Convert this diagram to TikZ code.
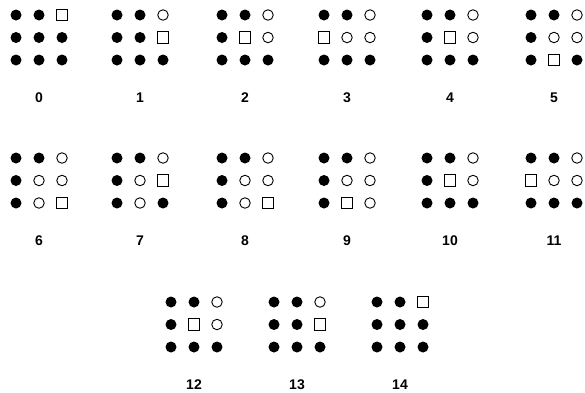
\documentclass[tikz,border=0pt]{standalone}
\usepackage{fontspec}
\setmainfont{Liberation Sans}
\usetikzlibrary{positioning}

\begin{document}
\begin{tikzpicture}[x=1pt,y=-1pt,
  pegb/.style={circle,fill=black,inner sep=0pt,minimum size=11pt},
  pegw/.style={circle,draw=black,line width=0.9pt,inner sep=0pt,minimum size=10.5pt},
  pegs/.style={rectangle,draw=black,line width=1.1pt,inner sep=0pt,minimum size=11.5pt},
  num/.style={font=\fontsize{14}{14}\selectfont\bfseries,anchor=base,inner sep=0pt}]
  \useasboundingbox (0,0) rectangle (585,392);
  % one 3x3 board per state: number / centre x / centre y / cells row by row
  \foreach \n/\cx/\cy/\st in {
      0/39/37.5/{b,b,s,b,b,b,b,b,b},
      1/140/37.5/{b,b,w,b,b,s,b,b,b},
      2/245/37.5/{b,b,w,b,s,w,b,b,b},
      3/347/37.5/{b,b,w,s,w,w,b,b,b},
      4/450/37.5/{b,b,w,b,s,w,b,b,b},
      5/554/37.5/{b,b,w,b,w,w,b,s,b},
      6/39/180.5/{b,b,w,b,w,w,b,w,s},
      7/140/180.5/{b,b,w,b,w,s,b,w,b},
      8/245/180.5/{b,b,w,b,w,w,b,w,s},
      9/347/180.5/{b,b,w,b,w,w,b,s,w},
      10/450/180.5/{b,b,w,b,s,w,b,b,b},
      11/554/180.5/{b,b,w,s,w,w,b,b,b},
      12/194/324.5/{b,b,w,b,s,w,b,b,b},
      13/297/324.5/{b,b,w,b,b,s,b,b,b},
      14/400/324.5/{b,b,s,b,b,b,b,b,b}}{
    \foreach \k [count=\i from 0] in \st {
      \pgfmathtruncatemacro{\r}{div(\i,3)}
      \pgfmathtruncatemacro{\c}{mod(\i,3)}
      \node[peg\k] (g\n-\r-\c) at ({\cx+23*(\c-1)},{\cy+22.5*(\r-1)}) {};
    }
    \node[num] (lab\n) at (\cx,\cy+64.5) {\n};
  }
\end{tikzpicture}
\end{document}
